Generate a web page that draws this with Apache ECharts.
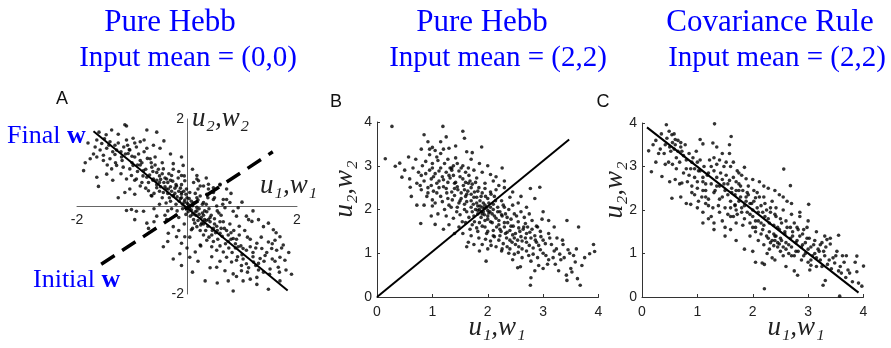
<!DOCTYPE html>
<html><head><meta charset="utf-8">
<script src="https://cdn.jsdelivr.net/npm/echarts@6/dist/echarts.min.js"></script>
<style>html,body{margin:0;padding:0;background:#fff}#c{width:891px;height:348px}</style>
</head><body><div id="c"></div>
<script>
// ---------- Text ----------
const titleLine1 = ['Pure Hebb', 'Pure Hebb', 'Covariance Rule'];
const titleLine2 = ['Input mean = (0,0)', 'Input mean = (2,2)', 'Input mean = (2,2)'];
const panelLetters = ['A', 'B', 'C'];
const xName = 'u\u2081,w\u2081';
const yName = 'u\u2082,w\u2082';

// ---------- Weight lines ----------
const finalW_A = [[-1.7, 1.72], [1.83, -1.92]];
const initialW_A = [[-1.56, -1.32], [1.56, 1.25]];
const finalW_B = [[0, 0], [3.47, 3.6]];
const finalW_C = [[0.09, 3.9], [3.91, 0.1]];

// ---------- Panel A: pure Hebb, input mean (0,0) ----------
const pointsA = [
[-1.13,1.87],[-1.10,1.84],[-1.37,1.75],[-0.73,1.75],[-0.55,1.70],[-1.47,1.64],[-1.25,1.65],[-1.64,1.52],[-1.55,1.44],[-1.40,1.48],
[-1.31,1.40],[-1.10,1.52],[-0.98,1.56],[-0.85,1.48],[-0.78,1.52],[-0.49,1.33],[-1.67,1.36],[-1.58,1.29],[-1.46,1.33],[-1.28,1.29],
[-1.15,1.36],[-1.04,1.29],[-0.92,1.36],[-0.73,1.33],[-0.61,1.40],[-1.76,1.09],[-1.64,1.13],[-1.52,1.17],[-1.40,1.09],[-1.31,1.19],
[-1.19,1.13],[-1.07,1.21],[-0.95,1.13],[-0.85,1.05],[-0.67,1.09],[-0.58,1.13],[-0.10,1.13],[-1.88,0.82],[-1.64,0.67],[-1.61,0.46],
[-1.46,0.74],[-1.37,0.86],[-1.28,0.94],[-1.16,0.90],[-1.04,0.86],[-0.98,0.94],[-0.79,0.82],[-0.64,0.90],[-0.55,0.78],[-0.43,0.86],
[-0.25,0.98],[-0.07,0.94],[-1.10,0.63],[-1.01,0.71],[-0.92,0.63],[-0.82,0.55],[-0.73,0.67],[-0.61,0.63],[-0.50,0.55],[-0.37,0.63],
[-0.28,0.71],[-0.10,0.71],[-0.04,0.59],[-1.13,0.32],[-1.04,0.40],[-0.95,0.28],[-0.85,0.47],[-0.70,0.36],[-0.64,0.24],[-0.55,0.43],
[-0.43,0.32],[-0.34,0.40],[-0.25,0.24],[-0.19,0.47],[-0.10,0.32],[-0.01,0.40],[0.18,0.71],[0.24,0.47],[0.39,0.40],[0.48,0.32],
[0.60,0.51],[0.72,0.16],[0.12,0.55],[0.21,0.59],[0.30,0.47],[0.39,0.51],[0.48,0.43],[0.60,0.49],[0.72,0.40],[0.66,0.16],
[0.78,0.09],[0.93,-0.03],[1.08,-0.22],[1.18,-0.34],[1.30,-0.30],[1.39,-0.46],[1.48,-0.38],[1.57,-0.53],[1.69,-0.69],[1.75,-0.88],
[1.63,-1.00],[1.54,-0.96],[1.42,-1.12],[1.33,-1.19],[1.21,-1.27],[1.08,-1.31],[0.99,-1.35],[0.90,-1.23],[0.81,-1.27],[0.72,-1.16],
[0.66,-1.04],[0.54,-1.00],[0.45,-0.92],[0.36,-0.77],[0.24,-0.88],[0.15,-1.04],[0.05,-1.16],[-0.04,-0.69],[0.08,-0.53],[0.18,-0.46],
[0.27,-0.38],[0.39,-0.30],[0.48,-0.50],[0.60,-0.61],[0.75,-0.65],[0.84,-0.73],[0.93,-0.92],[1.02,-0.96],[1.15,-0.92],[1.27,-0.84],
[1.36,-0.96],[1.48,-0.81],[1.60,-0.77],[1.69,-1.16],[1.78,-1.23],[1.66,-1.39],[1.51,-1.43],[1.39,-1.50],[1.27,-1.62],[1.15,-1.66],
[0.99,-1.47],[0.84,-1.54],[0.69,-1.47],[0.54,-1.39],[0.42,-1.40],[0.33,-1.70],[0.75,-1.70],[1.02,-1.70],[1.27,-1.78],[1.48,-1.89],
[1.69,-1.70],[0.84,-1.93],[-0.73,-0.38],[-0.70,-0.50],[-0.55,-0.22],[-0.37,-0.30],[-0.25,-0.46],[-0.34,-0.61],[-0.19,-0.69],[-0.10,-0.84],
[-0.13,-1.08],[-0.43,-0.92],[-0.10,-1.35],[-0.79,-0.11],[-0.92,-0.11],[-1.01,-0.07],[-1.10,-0.09],[0.24,0.24],[0.36,0.28],[0.48,0.16],
[0.18,0.20],[0.30,0.09],[0.54,0.01],[0.69,-0.03],[0.84,-0.11],[0.90,-0.22],[1.12,-0.30],[0.18,0.63],
[-0.05,0.10],[0.05,-0.05],[-0.12,0.18],[0.10,0.02],[-0.20,0.05],[0.15,-0.12],[0.00,0.20],[-0.08,-0.05],[0.22,-0.18],[-0.25,0.25],
[-0.30,0.12],[0.30,-0.20],[-0.15,0.35],[0.08,0.12],[-0.35,0.30],[0.35,-0.32],[-0.40,0.45],[0.42,-0.25],[-0.18,-0.10],[0.20,0.15],
[-0.45,0.20],[0.12,-0.30],[-0.02,-0.18],[0.28,0.05],[-0.28,-0.05],[0.05,0.32],[-0.55,0.50],[0.50,-0.40],[-0.50,0.35],[0.55,-0.55],
[-0.62,0.60],[0.60,-0.35],[-0.70,0.55],[0.68,-0.50],[-0.10,0.50],[0.10,-0.50],[-0.38,0.08],[0.40,-0.05],[-0.22,0.42],[0.25,-0.42],
[0.02,0.05],[-0.03,-0.02],[0.18,-0.02],[-0.10,0.28],[0.32,-0.10],[-0.32,0.20],[-0.60,0.30],[0.62,-0.20],[-0.48,0.62],[0.45,-0.65],
[-0.80,0.70],[0.80,-0.60],[-0.75,0.42],[0.75,-0.80],[-0.90,0.80],[0.90,-0.75],[-0.85,0.95],[0.88,-0.95],[-1.00,1.00],[1.00,-1.10],
[-0.95,0.60],[0.95,-0.45],[-1.20,1.25],[1.20,-1.05],[-1.30,1.00],[1.25,-1.35],[-1.05,1.30],[1.10,-0.70],[-0.65,0.25],[0.65,0.05],
[-0.30,0.60],[0.30,-0.65],[0.15,0.30],[-0.15,-0.25],[0.38,0.20],[-0.40,-0.20],
[-1.50,1.55],[-1.42,1.40],[-1.35,1.25],[-1.25,1.45],[-1.18,1.05],[-1.12,1.20],[-1.08,1.40],[-1.00,1.15],[-0.95,1.45],[-0.90,0.95],
[-0.88,1.20],[-0.82,1.00],[-0.78,1.25],[-0.75,0.85],[-0.72,1.10],[-0.68,0.72],[-0.65,1.00],[-0.62,0.80],[-0.58,0.95],[-0.55,0.60],
[-0.52,0.85],[-0.50,0.70],[-0.48,0.45],[-0.45,0.75],[-0.42,0.55],[-0.40,0.65],[-0.38,0.40],[-0.35,0.55],[-0.33,0.75],[-0.30,0.45],
[-0.28,0.35],[-0.26,0.58],[-0.22,0.30],[-0.20,0.50],[-0.18,0.22],[-0.16,0.65],[-0.14,0.12],[-0.12,0.42],[-0.10,0.20],[-0.08,0.05],
[-0.06,0.35],[-0.04,0.15],[-0.02,0.28],[0.00,0.08],[0.02,-0.12],[0.04,0.18],[0.06,-0.22],[0.08,-0.08],[0.10,-0.18],[0.12,0.08],
[0.14,-0.38],[0.16,-0.20],[0.18,-0.10],[0.20,-0.32],[0.22,-0.05],[0.24,-0.55],[0.26,-0.25],[0.28,-0.15],[0.30,-0.40],[0.32,-0.30],
[0.34,-0.55],[0.36,-0.12],[0.38,-0.45],[0.40,-0.70],[0.42,-0.35],[0.44,-0.20],[0.46,-0.55],[0.48,-0.80],[0.50,-0.28],[0.52,-0.60],
[0.54,-0.45],[0.56,-0.75],[0.58,-0.15],[0.60,-0.90],[0.62,-0.50],[0.64,-0.68],[0.66,-0.35],[0.70,-0.85],[0.72,-0.55],[0.76,-0.95],
[0.78,-0.40],[0.80,-0.75],[0.82,-1.05],[0.85,-0.55],[0.88,-0.85],[0.92,-1.15],[0.95,-0.65],[0.98,-0.90],[1.02,-1.20],[1.05,-0.55],
[1.08,-1.00],[1.12,-1.40],[1.15,-0.75],[1.20,-1.15],[1.25,-0.95],[1.30,-1.30],[1.35,-0.70],[1.40,-1.25],[1.45,-1.05],[1.50,-1.55],
[1.55,-0.85],[1.60,-1.25],[1.68,-1.50],[1.72,-0.95],[1.80,-1.45],[-1.60,1.70],[-1.52,1.05],[-1.70,1.20],[-1.45,0.95],[-1.20,0.75],
[-1.35,0.60],[-0.05,-0.40],[-0.20,-0.20],[-0.35,-0.10],[-0.50,0.05],[-0.60,-0.05],[0.05,-0.70],[-0.15,-0.55],[0.20,0.40],[0.35,0.05],
[0.50,0.20],[0.55,-0.10],[-0.25,0.85],[-0.45,1.00],[0.10,0.85],[-0.15,0.80],[0.25,-0.90],[0.00,-0.95],[0.45,-1.15],[0.20,-1.25],
[0.60,-1.25],[0.90,-1.60],[1.10,-1.50],[1.30,-1.45],[1.55,-1.20],[1.62,-0.60],[1.85,-1.05],[1.90,-1.55],[-1.80,1.45],[-1.85,1.00],
[-0.30,1.20],[-0.42,1.50],[-0.05,0.70],[0.35,0.65],[0.80,0.30],[1.00,0.10],[1.20,-0.10],[-1.25,0.20],[-0.95,-0.30],[-0.60,-0.35],
[-0.35,-0.80],[-0.25,-1.20],[0.10,-1.50],[0.55,-1.75]
];

// ---------- Panel B: pure Hebb, input mean (2,2) ----------
const pointsB = [
[0.27,3.90],[1.19,3.90],[1.55,3.79],[0.85,3.71],[1.25,3.66],[1.58,3.63],[0.15,3.16],[0.57,3.20],[0.41,3.06],[0.33,2.99],
[0.45,2.74],[0.59,2.70],[0.60,2.51],[0.79,1.68],[1.05,1.66],[1.89,3.43],[2.26,2.95],[2.77,2.48],[2.94,2.51],
[1.00,3.42],[1.05,3.35],[1.20,3.38],[1.30,3.40],[0.80,3.38],[0.95,3.25],[1.15,3.28],[1.62,3.32],[1.72,3.30],[0.88,3.10],[1.00,3.05],
[1.10,3.12],[1.28,3.15],[1.38,3.00],[1.45,3.05],[1.55,3.00],[1.65,2.95],[1.85,3.05],[0.75,2.85],[0.80,2.78],[0.95,2.90],
[1.05,2.82],[1.15,2.95],[1.25,2.85],[1.35,2.90],[1.48,2.88],[1.60,2.85],[1.75,2.90],[1.90,2.85],[2.05,2.80],[0.72,2.60],
[0.85,2.65],[0.98,2.70],[1.08,2.60],[1.20,2.68],[1.32,2.72],[1.42,2.62],[1.55,2.70],[1.68,2.65],[1.80,2.72],[1.95,2.60],
[2.10,2.65],[2.20,2.55],[0.80,2.45],[0.92,2.50],[1.02,2.42],[1.12,2.50],[1.25,2.48],[1.35,2.40],[1.45,2.52],[1.58,2.45],
[1.70,2.50],[1.82,2.42],[1.95,2.48],[2.05,2.40],[2.15,2.45],[2.30,2.50],[0.90,2.30],[1.00,2.22],[1.15,2.30],[1.28,2.25],
[1.40,2.32],[1.52,2.25],[1.62,2.35],[1.75,2.28],[1.88,2.30],[2.00,2.25],[2.12,2.30],[2.25,2.20],[2.40,2.28],[0.85,2.10],
[1.00,2.08],[1.30,2.10],[1.45,2.05],[1.58,2.12],[1.70,2.05],[1.80,2.15],[1.85,2.00],[1.90,2.05],[1.92,1.95],[1.95,2.10],
[2.00,1.98],[2.05,2.05],[2.10,2.12],[2.18,1.95],[2.30,2.05],[2.45,2.10],[2.55,2.15],[1.10,1.90],[1.25,1.85],[1.38,1.80],
[1.50,1.88],[1.62,1.95],[1.75,1.85],[1.82,1.90],[1.88,1.82],[2.00,1.85],[2.08,1.90],[2.15,1.80],[2.25,1.88],[2.35,1.82],
[2.48,1.90],[2.60,1.95],[2.75,1.90],[1.30,1.65],[1.48,1.60],[1.60,1.70],[1.72,1.65],[1.85,1.70],[1.95,1.60],[2.05,1.72],
[2.20,1.65],[2.30,1.70],[2.42,1.62],[2.55,1.72],[2.68,1.68],[2.80,1.75],[2.90,1.60],[1.55,1.45],[1.70,1.40],[1.82,1.50],
[1.98,1.45],[2.10,1.52],[2.22,1.40],[2.35,1.48],[2.45,1.42],[2.58,1.50],[2.70,1.45],[2.85,1.40],[2.95,1.50],[3.10,1.45],
[1.65,1.25],[1.90,1.20],[2.05,1.28],[2.15,1.15],[2.28,1.22],[2.40,1.30],[2.50,1.20],[2.62,1.28],[2.75,1.18],[2.88,1.25],
[3.00,1.30],[3.15,1.20],[3.25,1.35],[1.85,1.05],[2.00,1.10],[2.25,1.05],[2.38,1.00],[2.55,1.02],[2.70,1.05],[2.82,0.98],
[2.95,1.08],[3.05,0.95],[3.20,1.05],[3.30,0.98],[3.45,1.08],[2.45,0.85],[2.62,0.90],[2.78,0.82],[2.92,0.72],[3.10,0.85],
[3.22,0.75],[3.38,0.90],[3.50,0.65],[3.00,0.65],[2.85,0.60],
[3.64,1.60],[3.43,1.75],[3.91,1.20],[3.93,1.04],[3.67,0.27],[2.77,0.27],[3.43,0.38],[3.52,0.57],[3.70,0.72],[3.84,0.99],
[2.78,0.44],[2.59,0.69],[1.97,0.82],[2.54,0.67],[3.10,1.75],[3.00,1.95],[2.85,2.25],[3.20,1.60],[3.35,1.30],[3.55,0.95],
[3.60,1.10],[1.78,2.00],[1.82,1.98],[1.90,1.90],[1.86,2.08],[1.94,2.02],[2.02,1.92],[1.70,2.20],[1.60,2.30],[1.40,2.60],
[1.18,2.75],[1.50,2.20],[2.22,1.55],[2.48,1.35],[2.65,1.60],[1.35,2.95],[1.65,2.60],[2.35,1.15],[2.12,1.38],[1.95,1.75],
[1.00,2.95],[1.08,3.20],[1.12,2.88],[1.22,3.05],[1.28,2.62],[1.32,2.95],[1.38,2.78],[1.42,3.18],[1.46,2.45],[1.50,2.75],
[1.52,2.95],[1.56,2.55],[1.60,2.62],[1.64,2.42],[1.66,2.78],[1.70,2.35],[1.72,2.58],[1.74,2.12],[1.76,2.40],[1.78,2.62],
[1.80,2.28],[1.82,2.08],[1.84,2.50],[1.86,2.20],[1.88,1.95],[1.90,2.38],[1.92,2.15],[1.94,1.88],[1.96,2.30],[1.98,2.05],
[2.00,1.78],[2.02,2.15],[2.04,1.95],[2.06,2.35],[2.08,1.70],[2.10,2.00],[2.12,1.85],[2.14,2.20],[2.16,1.60],[2.18,2.05],
[2.20,1.75],[2.22,1.95],[2.24,1.50],[2.26,1.85],[2.28,2.10],[2.30,1.60],[2.32,1.90],[2.34,1.35],[2.36,1.70],[2.38,2.00],
[2.40,1.52],[2.42,1.78],[2.44,1.25],[2.46,1.62],[2.50,1.45],[2.52,1.85],[2.54,1.30],[2.56,1.58],[2.60,1.38],[2.62,1.10],
[2.64,1.55],[2.66,1.82],[2.70,1.25],[2.72,1.60],[2.74,0.95],[2.78,1.35],[2.80,1.55],[2.82,1.12],[2.86,1.30],[2.90,0.90],
[2.92,1.18],[2.96,1.38],[3.00,1.00],[3.04,1.22],[3.08,0.75],[3.12,1.35],[3.18,0.90],[3.24,1.10],[3.28,0.60],[3.32,0.85],
[3.36,1.20],[3.42,0.50],[3.48,1.00],[3.58,0.80],[3.62,0.42],[3.75,0.90],[0.65,2.95],[0.70,3.15],[0.78,2.55],[0.82,3.00],
[0.88,2.82],[0.92,2.38],[0.95,3.38],[0.98,2.55],[1.02,2.75],[1.05,2.15],[1.08,2.38],[1.12,2.65],[1.18,2.18],[1.20,2.52],
[1.22,2.00],[1.26,2.38],[1.30,2.78],[1.34,2.05],[1.36,2.22],[1.40,2.48],[1.44,1.95],[1.48,2.15],[1.52,2.38],[1.54,1.72],
[1.58,2.00],[1.62,2.18],[1.66,1.82],[1.68,1.55],[1.72,1.95],[1.76,1.72],[1.80,1.58],[1.84,1.35],[1.90,1.62],[1.96,1.32],
[2.00,1.50],[2.06,1.18],[2.10,1.40],[2.20,1.30],[2.26,1.10],[2.32,1.45],[2.40,1.10],[2.48,0.98],[2.56,1.15],[2.68,1.35],
[2.76,1.48],[2.88,1.62],[2.98,1.78],[1.15,3.55],[1.42,3.45],[0.92,3.55],[1.70,3.15],[2.00,3.00],[2.15,2.75],[2.30,2.65],
[2.45,2.40],[2.60,2.30],[2.70,2.05],[0.50,2.90],[0.62,2.30],[0.72,2.10],[0.98,1.85],[1.20,1.55],[1.40,1.45],[1.62,1.15],
[1.75,1.20]
];

// ---------- Panel C: covariance rule, input mean (2,2) ----------
const pointsC = [
[0.44,3.96],[1.31,3.98],[0.12,3.36],[0.17,2.88],[0.36,2.77],[0.54,2.27],[0.33,3.40],[0.49,3.81],[0.54,3.73],[1.05,3.62],
[1.10,3.52],[1.28,3.54],[1.61,3.69],[1.58,3.50],[2.56,2.94],[2.68,2.56],[3.01,2.13],[2.21,0.19],[3.57,0.02],[3.55,1.42],
[3.34,1.32],[3.40,1.22],[3.88,0.94],[3.69,0.95],[4.00,0.71],[3.91,0.32],[3.97,0.25],[3.88,0.58],[3.27,0.27],[3.31,0.38],
[2.81,0.50],[3.03,0.62],[3.05,0.73],[2.17,0.78],[2.21,0.75],[2.26,1.00],
[0.60,3.50],[0.65,3.35],[0.70,3.45],[0.62,3.20],[0.75,3.25],[0.55,3.05],[0.50,2.65],[0.68,2.60],[0.72,2.62],[0.80,2.95],
[0.85,2.80],[0.90,3.10],[0.95,2.95],[1.00,3.10],[1.05,2.90],[0.90,2.55],[0.95,2.35],[0.80,2.15],[0.88,2.13],[1.02,2.20],
[1.00,2.65],[1.10,2.75],[1.15,2.60],[1.20,2.85],[1.25,3.00],[1.30,3.20],[1.35,3.05],[1.40,3.15],[1.48,3.00],[1.52,3.10],
[1.58,3.30],[1.60,3.00],[1.10,2.45],[1.15,2.30],[1.20,2.10],[1.10,1.95],[1.25,1.85],[1.30,2.40],[1.35,2.55],[1.40,2.25],
[1.45,2.70],[1.50,2.45],[1.55,2.60],[1.60,2.20],[1.62,2.50],[1.68,2.35],[1.70,2.65],[1.72,2.90],[1.78,2.55],[1.80,2.80],
[1.85,2.98],[1.88,2.72],[1.90,2.40],[1.40,1.95],[1.45,1.75],[1.55,1.90],[1.60,2.05],[1.65,1.85],[1.70,2.00],[1.75,2.20],
[1.80,1.95],[1.82,1.65],[1.85,2.10],[1.88,2.30],[1.92,2.55],[1.95,1.90],[2.00,2.00],[2.02,2.20],[2.05,1.75],[2.08,2.40],
[2.10,1.95],[2.12,2.65],[2.15,2.10],[2.18,1.55],[2.20,2.30],[2.22,1.85],[2.25,2.00],[2.28,2.50],[2.30,1.70],[2.35,2.20],
[2.38,1.45],[2.40,1.90],[2.42,2.05],[2.45,1.60],[2.48,2.35],[2.50,1.80],[2.52,1.30],[2.55,2.00],[2.58,1.50],[2.60,1.75],
[2.62,2.20],[2.65,1.20],[2.68,1.60],[2.70,1.90],[2.72,1.40],[2.75,1.70],[2.78,1.05],[2.80,1.30],[2.82,1.55],[2.85,1.85],
[2.88,1.15],[2.90,1.45],[2.92,0.95],[2.95,1.25],[2.98,1.60],[3.00,1.10],[3.02,1.35],[3.05,0.85],[3.10,1.20],[3.12,1.00],
[3.15,0.70],[3.20,1.05],[3.22,0.85],[3.25,1.25],[3.30,0.95],[3.35,0.75],[3.40,1.35],[3.45,0.90],[3.50,0.95],[3.55,0.60],
[3.60,0.55],[3.65,0.80],[3.72,0.62],[2.20,1.20],[2.30,1.10],[2.40,1.30],[2.45,1.15],[2.50,1.05],[2.55,0.95],[2.60,1.10],
[2.70,0.95],[2.35,0.90],[1.95,1.40],[2.05,1.50],[2.10,1.30],[2.00,1.60],[1.70,1.70],[1.60,1.55],[1.50,1.60],[1.30,1.70],
[1.20,1.80],[1.15,2.15],[0.50,3.45],[0.55,3.55],[0.58,3.40],[0.60,3.62],[0.42,3.50],[0.30,3.30],[0.70,3.55],[2.32,1.25],
[2.38,1.18],[2.42,1.40],[2.28,1.35],[2.48,1.22],[1.75,2.45],[1.95,2.15],[2.15,1.70],[2.32,1.95],[1.68,2.12],[2.05,2.28],
[0.25,3.60],[0.35,3.75],[0.40,3.30],[0.45,3.65],[0.48,3.10],[0.52,3.35],[0.58,3.75],[0.62,2.95],[0.65,3.60],[0.68,3.10],
[0.72,3.35],[0.75,2.85],[0.78,3.50],[0.80,3.15],[0.82,2.65],[0.85,3.30],[0.88,2.95],[0.90,2.40],[0.92,3.20],[0.95,2.75],
[0.98,3.35],[1.00,2.50],[1.02,2.90],[1.05,3.15],[1.08,2.30],[1.10,2.65],[1.12,3.00],[1.15,2.45],[1.18,2.80],[1.20,2.25],
[1.22,3.15],[1.25,2.60],[1.28,2.05],[1.30,2.90],[1.32,2.45],[1.35,2.75],[1.38,2.10],[1.40,2.55],[1.42,2.85],[1.45,2.30],
[1.48,2.60],[1.50,2.05],[1.52,2.80],[1.55,2.35],[1.58,2.68],[1.60,1.85],[1.62,2.40],[1.65,2.75],[1.68,2.10],[1.70,2.45],
[1.72,1.90],[1.75,2.60],[1.78,2.30],[1.80,2.05],[1.82,2.45],[1.85,1.80],[1.88,2.20],[1.90,1.95],[1.92,2.35],[1.95,1.70],
[1.98,2.15],[2.00,1.85],[2.02,2.45],[2.05,1.60],[2.08,2.05],[2.10,1.75],[2.12,2.30],[2.15,1.45],[2.18,1.95],[2.20,1.65],
[2.22,2.15],[2.25,1.40],[2.28,1.80],[2.30,1.50],[2.32,2.05],[2.35,1.30],[2.38,1.65],[2.40,1.40],[2.42,1.85],[2.45,1.25],
[2.48,1.55],[2.50,1.35],[2.52,1.70],[2.55,1.15],[2.58,1.45],[2.60,1.25],[2.62,1.60],[2.65,1.00],[2.68,1.35],[2.70,1.15],
[2.72,1.50],[2.75,0.95],[2.78,1.25],[2.80,1.60],[2.82,1.05],[2.85,1.40],[2.88,0.85],[2.90,1.20],[2.92,1.55],[2.95,1.00],
[2.98,1.35],[3.00,0.80],[3.05,1.15],[3.08,0.95],[3.12,1.30],[3.15,0.90],[3.18,1.10],[3.22,1.20],[3.25,0.70],[3.28,1.05],
[3.32,1.15],[3.38,0.85],[3.42,0.65],[3.48,0.78],[3.52,1.05],[3.58,0.70],[3.62,0.95],[3.68,0.45],[3.75,0.55],[3.80,0.35],
[3.85,0.80],[1.35,3.45],[1.45,3.30],[1.65,3.10],[1.75,2.85],[2.00,2.70],[2.20,2.55],[2.40,2.45],[2.55,2.30],[2.70,2.15],
[2.85,1.95],[3.00,1.75],[3.15,1.50],[3.30,1.40],[1.10,1.70],[1.30,1.55],[1.50,1.40],[1.70,1.30],[1.85,1.10],[2.00,1.05],
[2.05,0.80],[2.40,0.85],[2.60,0.70],[2.75,0.60],[1.00,2.05],[0.70,2.30],[0.60,2.70],[0.42,3.05],[0.25,3.10],[0.20,3.50]
];

const fontSans = 'Liberation Sans';
const fontSerif = 'Liberation Serif';

function cornerAxis(gridIndex, color, margin) {
  return {
    gridIndex, type: 'value', min: 0, max: 4, interval: 1,
    axisLine: { show: true, onZero: false, lineStyle: { color: color, width: 1 } },
    axisTick: { show: true, inside: true, length: 3, lineStyle: { color: color } },
    splitLine: { show: false },
    axisLabel: { color: '#222', fontSize: 14, fontFamily: fontSans, margin: margin }
  };
}
function crossAxis(gridIndex, margin, offset) {
  return {
    gridIndex, type: 'value', min: -2, max: 2, interval: 2, offset: offset,
    axisLine: { show: true, onZero: false, lineStyle: { color: '#666', width: 1 } },
    axisTick: { show: false },
    splitLine: { show: false },
    axisLabel: { color: '#222', fontSize: 14, fontFamily: fontSans, margin: margin,
      formatter: v => (v === 0 ? '' : String(v)) }
  };
}

const titleCenters1 = [170, 482, 770];
const titleCenters2 = [188, 498, 777];
const graphics = [];
for (let i = 0; i < 3; i++) {
  graphics.push({ type: 'text', x: titleCenters1[i], y: 23,
    style: { text: titleLine1[i], font: '31px "' + fontSerif + '"', fill: '#0000ff', align: 'center', verticalAlign: 'middle' } });
  graphics.push({ type: 'text', x: titleCenters2[i], y: 58,
    style: { text: titleLine2[i], font: '29px "' + fontSerif + '"', fill: '#0000ff', align: 'center', verticalAlign: 'middle' } });
}
const letterPos = [[62, 99], [336, 102], [603, 102]];
panelLetters.forEach((t, i) => graphics.push({ type: 'text', x: letterPos[i][0], y: letterPos[i][1],
  style: { text: t, font: '18px "' + fontSans + '"', fill: '#111', align: 'center', verticalAlign: 'middle' } }));

const wFont = 'italic 27px "' + fontSerif + '"';
graphics.push({ type: 'text', x: 192, y: 119, style: { text: yName, font: wFont, fill: '#222', align: 'left', verticalAlign: 'middle' } });
graphics.push({ type: 'text', x: 260, y: 186, style: { text: xName, font: wFont, fill: '#222', align: 'left', verticalAlign: 'middle' } });
graphics.push({ type: 'text', x: 497, y: 328, style: { text: xName, font: wFont, fill: '#222', align: 'center', verticalAlign: 'middle' } });
graphics.push({ type: 'text', x: 796, y: 328, style: { text: xName, font: wFont, fill: '#222', align: 'center', verticalAlign: 'middle' } });
graphics.push({ type: 'text', x: 345, y: 189, rotation: Math.PI / 2, style: { text: yName, font: wFont, fill: '#222', align: 'center', verticalAlign: 'middle' } });
graphics.push({ type: 'text', x: 615, y: 190, rotation: Math.PI / 2, style: { text: yName, font: wFont, fill: '#222', align: 'center', verticalAlign: 'middle' } });

graphics.push({ type: 'text', x: 7, y: 136, style: { text: '{a|Final }{b|w}',
  rich: { a: { fontSize: 26, fontFamily: fontSerif, fill: '#0000ff' }, b: { fontSize: 26, fontFamily: fontSerif, fontWeight: 'bold', fill: '#0000ff' } },
  align: 'left', verticalAlign: 'middle' } });
graphics.push({ type: 'text', x: 33, y: 280, style: { text: '{a|Initial }{b|w}',
  rich: { a: { fontSize: 26, fontFamily: fontSerif, fill: '#0000ff' }, b: { fontSize: 26, fontFamily: fontSerif, fontWeight: 'bold', fill: '#0000ff' } },
  align: 'left', verticalAlign: 'middle' } });

function scatter(idx, data) {
  return { type: 'scatter', xAxisIndex: idx, yAxisIndex: idx, data: data, symbol: 'circle', symbolSize: 3.6,
    itemStyle: { color: '#000' }, silent: true, z: 2 };
}
function wline(idx, data, width, type) {
  return { type: 'line', xAxisIndex: idx, yAxisIndex: idx, data: data, showSymbol: false, symbol: 'none',
    lineStyle: { color: '#000', width: width, type: type || 'solid' }, silent: true, z: 3 };
}

const option = {
  animation: false,
  backgroundColor: '#fff',
  grid: [
    { left: 77, top: 119, width: 220, height: 175, outerBoundsMode: 'none', containLabel: false },
    { left: 377, top: 122, width: 221.5, height: 175, outerBoundsMode: 'none', containLabel: false },
    { left: 642, top: 123, width: 221.5, height: 174, outerBoundsMode: 'none', containLabel: false }
  ],
  xAxis: [crossAxis(0, 7, -87.5), cornerAxis(1, '#333', 8), cornerAxis(2, '#333', 8)],
  yAxis: [crossAxis(0, 3, -110), cornerAxis(1, '#333', 5), cornerAxis(2, '#333', 5)],
  series: [
    scatter(0, pointsA), scatter(1, pointsB), scatter(2, pointsC),
    wline(0, finalW_A, 2), wline(0, initialW_A, 3.5, [16, 9]),
    wline(1, finalW_B, 2), wline(2, finalW_C, 2)
  ],
  graphic: graphics
};
const chart = echarts.init(document.getElementById('c'), null, { renderer: 'canvas' });
chart.setOption(option);
</script>
</body></html>
